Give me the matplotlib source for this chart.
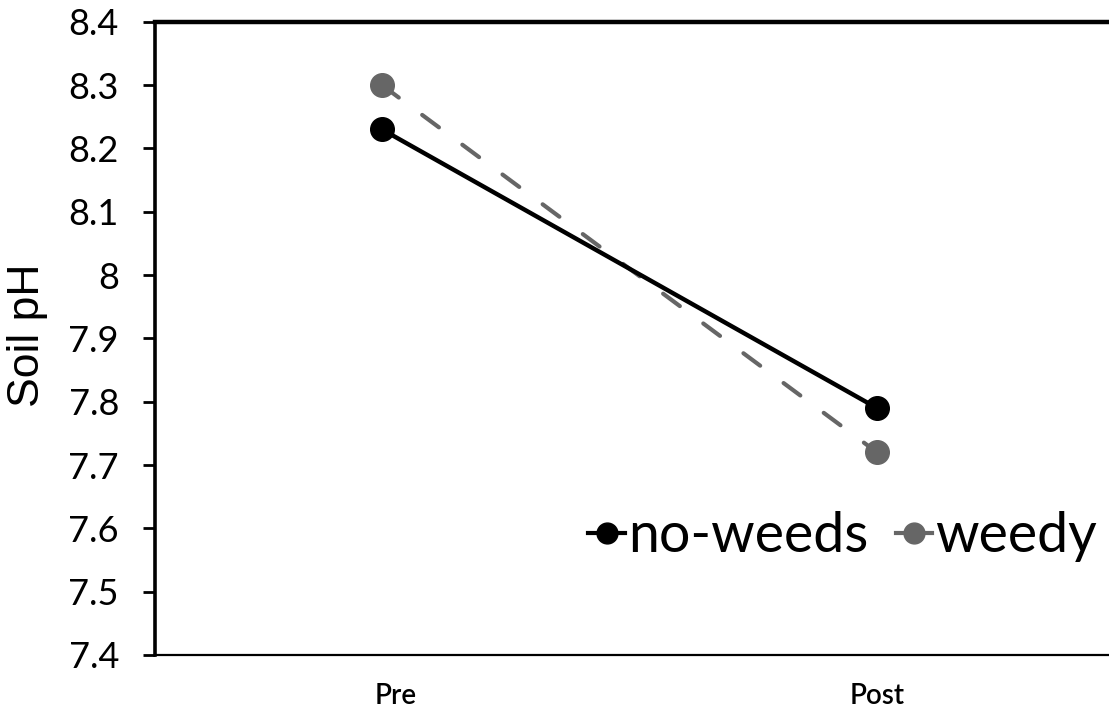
import matplotlib
matplotlib.use("Agg")
import matplotlib.pyplot as plt
from matplotlib.lines import Line2D
from matplotlib.transforms import ScaledTranslation

# Data
periods = ["Pre", "Post"]
no_weeds = [8.23, 7.79]
weedy = [8.30, 7.72]
y_ticks = [7.4, 7.5, 7.6, 7.7, 7.8, 7.9, 8.0, 8.1, 8.2, 8.3, 8.4]
y_tick_labels = ["7.4", "7.5", "7.6", "7.7", "7.8", "7.9", "8", "8.1", "8.2", "8.3", "8.4"]

GREY = "#666666"
TICK_FONT = ["Lato", "DejaVu Sans"]

fig = plt.figure(figsize=(11.09, 7.11), dpi=100)
ax = fig.add_axes([0.1398, 0.0788, 0.8602, 0.8905])

x = list(range(len(periods)))
ax.plot(x, weedy, color=GREY, lw=3.0, ls=(0, (5.0, 7.0)), dash_capstyle="round",
        marker="o", markersize=17, markerfacecolor=GREY, markeredgecolor=GREY, zorder=2)
ax.plot(x, no_weeds, color="black", lw=3.2, marker="o",
        markersize=17, markerfacecolor="black", markeredgecolor="black", zorder=3)

ax.set_xlim(-0.4586, 1.4687)
ax.set_ylim(7.4, 8.4)
ax.set_yticks(y_ticks)
ax.set_yticklabels(y_tick_labels, fontsize=26, family=TICK_FONT)
ax.set_xticks(x)
ax.set_xticklabels(periods, fontsize=20, family=TICK_FONT, fontweight="semibold")
ax.tick_params(axis="y", direction="out", length=9, width=2, pad=17)
ax.tick_params(axis="x", length=0, pad=20)

# the "Pre" label sits a little right of its category
first = ax.get_xticklabels()[0]
first.set_transform(first.get_transform() + ScaledTranslation(0.14, 0, fig.dpi_scale_trans))

ax.spines["left"].set_linewidth(2.6)
ax.spines["top"].set_linewidth(3.2)
ax.spines["bottom"].set_linewidth(1.6)
ax.spines["right"].set_visible(False)

fig.text(28 / 1109, 1 - 335 / 711, "Soil pH", rotation=90, ha="center", va="center",
         fontsize=32, family=["Liberation Sans", "DejaVu Sans"])

handles = [
    Line2D([], [], color="black", lw=3, marker="o", markersize=15),
    Line2D([], [], color=GREY, lw=3, marker="o", markersize=15),
]
leg = ax.legend(handles, ["no-weeds", "weedy"], loc="center left",
                bbox_to_anchor=(0.425, 0.187), ncol=2, frameon=False, borderpad=0,
                handlelength=0.66, handletextpad=0.05, columnspacing=0.5,
                prop={"family": TICK_FONT, "size": 40})

fig.savefig("out.png", dpi=100)
